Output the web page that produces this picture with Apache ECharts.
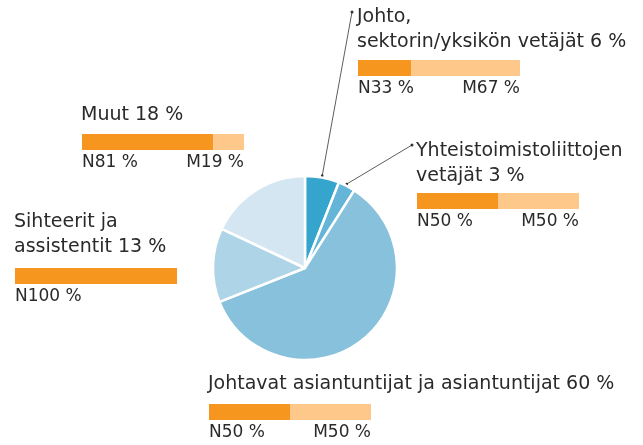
<!DOCTYPE html>
<html>
<head>
<meta charset="utf-8">
<script src="https://cdn.jsdelivr.net/npm/echarts@6/dist/echarts.min.js"></script>
<style>
  html, body { margin: 0; padding: 0; background: #fff; }
  #chart { width: 643px; height: 445px; }
</style>
</head>
<body>
<div id="chart"></div>
<script>
// pie slices, clockwise from the top
var groups = ['Johto', 'Yhteistoimistoliittojen', 'Johtavat', 'Sihteerit', 'Muut'];
var shares = [6, 3, 60, 13, 18];
var sliceColors = ['#36a5cd', '#64b5d7', '#88c1dc', '#add4e7', '#d4e6f2'];

// gender split per group (N = naiset, M = miehet)
var womenPct = [33, 50, 50, 100, 81];
var menPct = [67, 50, 50, 0, 19];

// heading text per group
var headings = [
  'Johto,\nsektorin/yksikön vetäjät 6 %',
  'Yhteistoimistoliittojen\nvetäjät 3 %',
  'Johtavat asiantuntijat ja asiantuntijat 60 %',
  'Sihteerit ja\nassistentit 13 %',
  'Muut 18 %'
];

var textColor = '#2a2a2a';
var fontFam = '"DejaVu Sans", "Open Sans", sans-serif';

// where each little bar block sits (left, top of bar)
var blocks = [
  { x: 358, y: 60, tx: 357, ty: 5 },
  { x: 417, y: 193, tx: 416, ty: 139 },
  { x: 209, y: 404, tx: 208, ty: 372 },
  { x: 15, y: 268, tx: 14, ty: 210 },
  { x: 82, y: 134, tx: 81, ty: 103 }
];
var barW = 162, barH = 16;

var pieCenter = [305, 268], pieR = 92;

var grids = [], xAxes = [], yAxes = [], series = [], graphics = [];

blocks.forEach(function (b, i) {
  grids.push({ left: b.x, top: b.y, width: barW, height: barH });
  xAxes.push({ type: 'value', gridIndex: i, min: 0, max: 100, show: false });
  yAxes.push({ type: 'category', gridIndex: i, data: [groups[i]], show: false });
  series.push({
    type: 'bar', xAxisIndex: i, yAxisIndex: i, stack: 's' + i,
    data: [womenPct[i]], barWidth: barH, silent: true,
    itemStyle: { color: '#f7961e' },
    label: {
      show: true, position: [0, 29], align: 'left', verticalAlign: 'middle',
      color: textColor, fontSize: 17, fontFamily: fontFam,
      formatter: function (p) { return 'N' + p.value + ' %'; }
    }
  });
  series.push({
    type: 'bar', xAxisIndex: i, yAxisIndex: i, stack: 's' + i,
    data: [menPct[i]], barWidth: barH, silent: true,
    itemStyle: { color: '#fec88a' },
    label: {
      show: menPct[i] > 0, position: ['100%', 29], align: 'right', verticalAlign: 'middle',
      color: textColor, fontSize: 17, fontFamily: fontFam,
      formatter: function (p) { return 'M' + p.value + ' %'; }
    }
  });
  graphics.push({
    type: 'text', left: b.tx, top: b.ty,
    style: { text: headings[i], fill: textColor, font: '19px ' + fontFam, lineHeight: 25 }
  });
});

// leader lines from the two small slices to their headings
var total = shares.reduce(function (a, c) { return a + c; }, 0);
function midPoint(idx) {
  var before = 0;
  for (var k = 0; k < idx; k++) before += shares[k];
  var ang = (before + shares[idx] / 2) / total * 2 * Math.PI;
  return [pieCenter[0] + pieR * Math.sin(ang), pieCenter[1] - pieR * Math.cos(ang)];
}
var leaderEnds = [[352, 12], [412, 145]];
[0, 1].forEach(function (i) {
  var p = midPoint(i);
  graphics.push({
    type: 'line', shape: { x1: p[0], y1: p[1] - 2, x2: leaderEnds[i][0], y2: leaderEnds[i][1] },
    style: { stroke: '#333', lineWidth: 0.8 }
  });
  graphics.push({ type: 'circle', shape: { cx: leaderEnds[i][0], cy: leaderEnds[i][1], r: 1.5 }, style: { fill: '#333' } });
  graphics.push({ type: 'circle', shape: { cx: p[0], cy: p[1] - 2, r: 1.3 }, style: { fill: '#333' } });
});

series.push({
  type: 'pie', center: pieCenter, radius: pieR, startAngle: 90, clockwise: true,
  silent: true, label: { show: false }, labelLine: { show: false },
  itemStyle: { borderColor: '#fff', borderWidth: 2.5 },
  data: groups.map(function (g, i) {
    return { name: g, value: shares[i], itemStyle: { color: sliceColors[i] } };
  })
});

var chart = echarts.init(document.getElementById('chart'));
chart.setOption({
  animation: false,
  grid: grids,
  xAxis: xAxes,
  yAxis: yAxes,
  series: series,
  graphic: graphics
});
</script>
</body>
</html>
